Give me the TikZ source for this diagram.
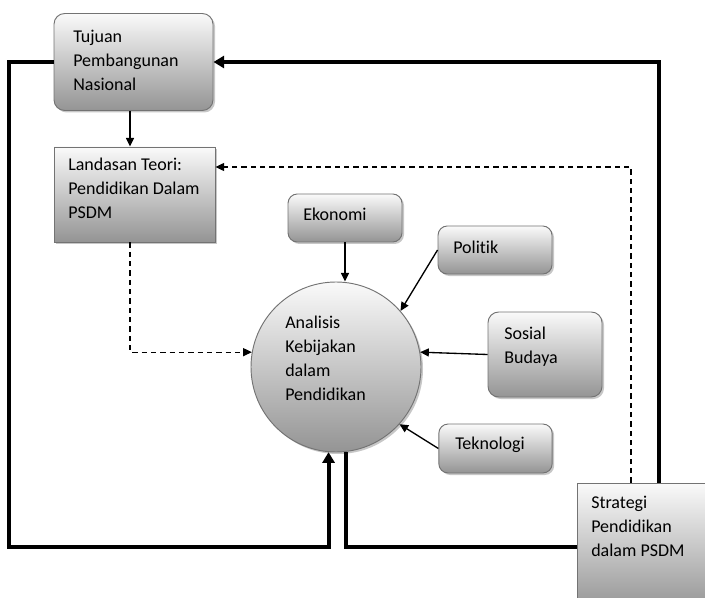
\documentclass[tikz,border=0pt]{standalone}
\usepackage{fontspec}
\setmainfont{Carlito}[Ligatures=NoCommon]
\usetikzlibrary{arrows.meta,shadows,calc}
\begin{document}
\begin{tikzpicture}[x=0.75pt,y=-0.75pt,
  shapebase/.style={draw=black!55, line width=0.7pt, top color=black!2, bottom color=black!42,
    drop shadow={shadow xshift=1.5pt, shadow yshift=-1.5pt, fill=black!22, opacity=1},
    inner sep=0pt},
  rbox/.style={shapebase, rectangle, rounded corners=8pt},
  sbox/.style={shapebase, rectangle},
  cbox/.style={shapebase, circle},
  lbl/.style={anchor=west, align=left, inner sep=0pt, font=\fontsize{13.5}{18}\selectfont},
  thinarrow/.style={line width=1pt, -{Triangle[length=6.5pt,width=6pt]}},
  dasharrow/.style={line width=0.9pt, dash pattern=on 4pt off 3pt, -{Triangle[length=6.5pt,width=6pt]}},
  thickline/.style={line width=3pt, line join=miter},
  thickarrow/.style={thickline, -{Triangle[length=8pt,width=9pt]}}
]
\useasboundingbox (0,0) rectangle (705,598);

% shapes
\node[rbox, minimum width=119.25pt, minimum height=72.75pt] (tujuan) at (133.5,62) {};
\node[sbox, minimum width=120.75pt, minimum height=71.25pt] (landasan) at (134.5,194.5) {};
\node[cbox, minimum size=127.5pt] (circ) at (336,367) {};
\node[rbox, rounded corners=7pt, minimum width=85.5pt, minimum height=36pt] (eko) at (345,218) {};
\node[rbox, rounded corners=7pt, minimum width=85.5pt, minimum height=36pt] (pol) at (495,250) {};
\node[rbox, minimum width=85.5pt, minimum height=63.75pt] (soc) at (545,354.5) {};
\node[rbox, rounded corners=7pt, minimum width=85pt, minimum height=36.75pt] (tek) at (495.5,448.5) {};
\node[sbox, minimum width=122.25pt, minimum height=96pt] (strategi) at (658.5,547) {};

% texts
\node[lbl] (tujuan-t) at (73,60) {Tujuan\\Pembangunan\\Nasional};
\node[lbl] (landasan-t) at (68,188) {Landasan Teori:\\Pendidikan Dalam\\PSDM};
\node[lbl] (circ-t) at (285,358) {Analisis\\Kebijakan\\dalam\\Pendidikan};
\node[lbl] (eko-t) at (303,214) {Ekonomi};
\node[lbl] (pol-t) at (453,247) {Politik};
\node[lbl] (soc-t) at (504,347) {Sosial\\Budaya};
\node[lbl] (tek-t) at (455,445) {Teknologi};
\node[lbl] (strategi-t) at (591,526) {Strategi\\Pendidikan\\dalam PSDM};

% connectors
\coordinate (ax) at (130,0);
\coordinate (bl) at (9,547);
\coordinate (dc) at (631,167);
\draw[thinarrow] (tujuan.south -| ax) -- (landasan.north -| ax);
\draw[dasharrow] (landasan.south -| ax) |- (circ.170);
\draw[thickarrow] (tujuan.west) -| (bl) -| (circ.265);
\draw[thickline] (circ.277) |- (strategi.west);
\draw[thickarrow] (strategi.north) |- (tujuan.east);
\draw[dasharrow] (strategi.north -| dc) -- (dc) -- (dc -| landasan.east);
\draw[thinarrow] (eko.south) -- (eko.south |- circ.north);
\draw[thinarrow] (pol.west) -- (circ.41);
\draw[thinarrow] (soc.west) -- (circ.10);
\draw[thinarrow] (tek.west) -- (circ.-42);
\end{tikzpicture}
\end{document}
